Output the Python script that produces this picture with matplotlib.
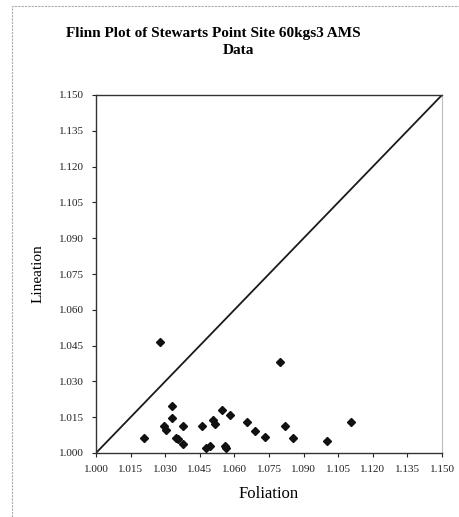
import matplotlib.pyplot as plt
import numpy as np

# Flinn plot data
foliation = [1.0276, 1.0798, 1.0210, 1.0330, 1.0330, 1.0295, 1.0305, 1.0379, 1.0347,
             1.0357, 1.0379, 1.0458, 1.0507, 1.0515, 1.0546, 1.0580, 1.0478, 1.0496,
             1.0559, 1.0565, 1.0656, 1.0688, 1.0733, 1.0820, 1.0854, 1.1003, 1.1105]
lineation = [1.0463, 1.0383, 1.0062, 1.0199, 1.0148, 1.0112, 1.0095, 1.0112, 1.0063,
             1.0060, 1.0036, 1.0112, 1.0140, 1.0120, 1.0182, 1.0161, 1.0023, 1.0029,
             1.0028, 1.0020, 1.0131, 1.0092, 1.0069, 1.0112, 1.0062, 1.0050, 1.0130]
ref_line = [1.000, 1.150]
ticks = np.round(np.arange(1.000, 1.1501, 0.015), 3)
tick_labels = ['%.3f' % t for t in ticks]

plt.rcParams['font.family'] = ['Liberation Serif', 'DejaVu Serif']

fig = plt.figure(figsize=(4.59, 5.17), dpi=100)
# faint outer frame like the scanned page
fig.patches.append(plt.Rectangle((12 / 459, -0.01), 1.2, 1 - 6 / 517 + 0.01,
                                 transform=fig.transFigure, fill=False,
                                 edgecolor='#aaaaaa', linewidth=0.8, linestyle=(0, (2, 1))))

ax = fig.add_axes([96 / 459, 1 - 453 / 517, 346 / 459, 358 / 517])
ax.plot(ref_line, ref_line, color='#1a1a1a', linewidth=1.3)
ax.plot(foliation, lineation, linestyle='none', marker='D', markersize=4.2,
        color='#111111')

ax.set_xlim(1.0, 1.15)
ax.set_ylim(1.0, 1.15)
ax.set_xticks(ticks)
ax.set_xticklabels(tick_labels)
ax.set_yticks(ticks)
ax.set_yticklabels(tick_labels)
ax.tick_params(direction='out', length=3, width=0.8, labelsize=8, pad=6, colors='#222222')

for side in ['left', 'bottom', 'top']:
    ax.spines[side].set_color('#333333')
    ax.spines[side].set_linewidth(1.0)
ax.spines['right'].set_color('#bbbbbb')
ax.spines['right'].set_linewidth(0.8)

ax.set_xlabel('Foliation', fontsize=12, labelpad=8)
ax.set_ylabel('Lineation', fontsize=11, labelpad=10)

fig.text(0.465, 1 - 33 / 517, 'Flinn Plot of Stewarts Point Site 60kgs3 AMS',
         ha='center', va='center', fontsize=11, fontweight='bold')
fig.text(0.519, 1 - 51 / 517, 'Data', ha='center', va='center', fontsize=11,
         fontweight='bold')

fig.savefig('out.png', dpi=100)
